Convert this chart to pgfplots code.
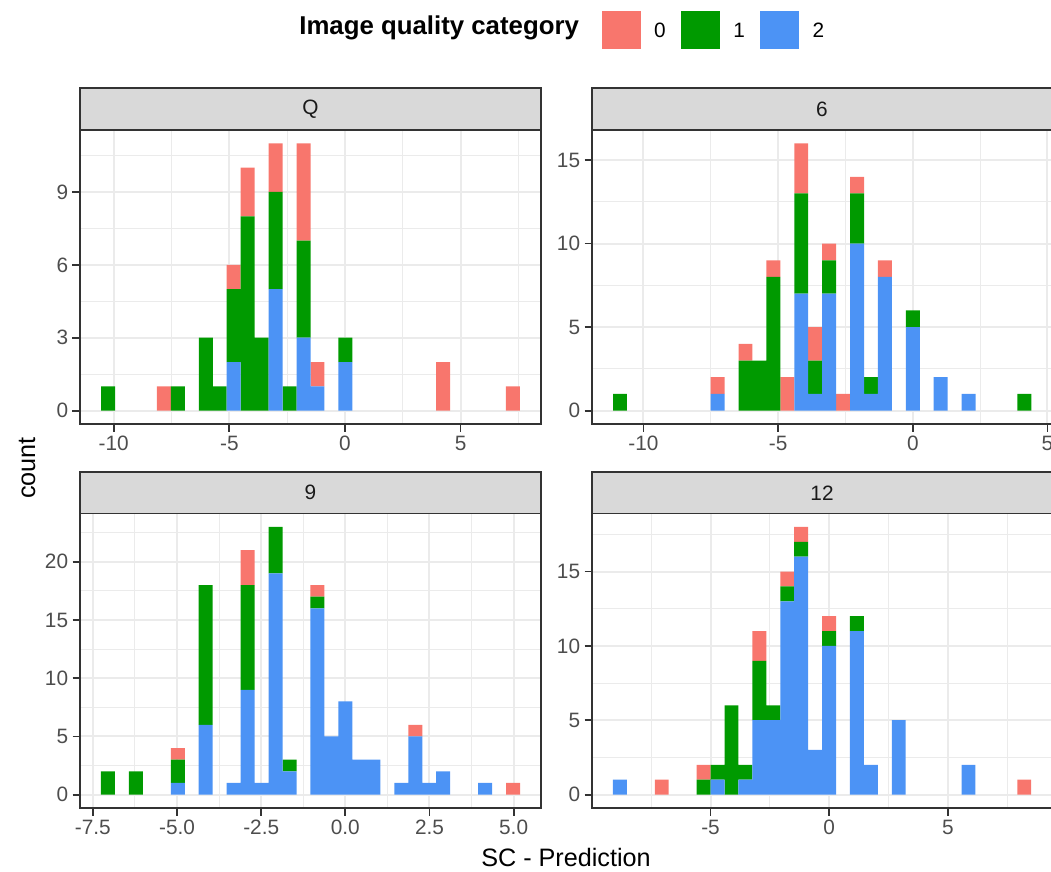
\documentclass[border=0pt]{standalone}
\usepackage{pgfplots}
\pgfplotsset{compat=1.18}
\usepackage{pgfplotstable}
\usepackage{fontspec}
\setmainfont{Liberation Sans}
\definecolor{redc}{HTML}{F8766D}
\definecolor{greenc}{HTML}{009A00}
\definecolor{bluec}{HTML}{4C93F5}
\definecolor{grey10}{HTML}{1A1A1A}
\definecolor{grey20}{HTML}{333333}
\definecolor{grey30}{HTML}{4D4D4D}
\definecolor{grey85}{HTML}{D9D9D9}
\definecolor{grey92}{HTML}{EBEBEB}

\pgfplotstableread{
x b g r
-10.248 0 1 0
-7.832 0 0 1
-7.228 0 1 0
-6.020 0 3 0
-5.416 0 1 0
-4.812 2 3 1
-4.208 0 8 2
-3.604 0 3 0
-3.000 5 4 2
-2.396 0 1 0
-1.792 3 4 4
-1.188 1 0 1
0.020 2 1 0
4.248 0 0 2
7.268 0 0 1
}\tQ

\pgfplotstableread{
x b g r
-10.871 0 1 0
-7.247 1 0 1
-6.212 0 3 1
-5.694 0 3 0
-5.176 0 8 1
-4.659 0 0 2
-4.141 7 6 3
-3.623 1 2 2
-3.106 7 2 1
-2.588 0 0 1
-2.070 10 3 1
-1.552 1 1 0
-1.035 8 0 1
0.001 5 1 0
1.036 2 0 0
2.071 1 0 0
4.142 0 1 0
}\tSix

\pgfplotstableread{
x b g r
-7.053 0 2 0
-6.223 0 2 0
-4.978 1 2 1
-4.148 6 12 0
-3.318 1 0 0
-2.903 9 9 3
-2.488 1 0 0
-2.073 19 4 0
-1.658 2 1 0
-0.828 16 1 1
-0.413 5 0 0
0.003 8 0 0
0.418 3 0 0
0.833 3 0 0
1.663 1 0 0
2.078 5 0 1
2.493 1 0 0
2.908 2 0 0
4.153 1 0 0
4.983 0 0 1
}\tNine

\pgfplotstableread{
x b g r
-8.813 1 0 0
-7.052 0 0 1
-5.291 0 1 1
-4.704 1 1 0
-4.117 0 6 0
-3.530 1 1 0
-2.943 5 4 2
-2.356 5 1 0
-1.769 13 1 1
-1.182 16 1 1
-0.595 3 0 0
-0.008 10 1 1
1.166 11 1 0
1.753 2 0 0
2.927 5 0 0
5.862 2 0 0
8.210 0 0 1
}\tTwelve

\pgfplotsset{
  facet/.style={
    scale only axis,
    anchor=south west,
    ybar stacked,
    axis line style={draw=grey20, line width=0.9pt},
    tick style={draw=grey20, line width=0.9pt},
    tick align=outside,
    tick pos=left,
    major tick length=3.75pt,
    minor tick length=0pt,
    grid=both,
    major grid style={draw=grey92, line width=1pt},
    minor grid style={draw=grey92, line width=0.5pt},
    tick label style={font=\fontsize{10.4}{12}\selectfont, text=grey30, inner sep=2pt},
    /pgf/number format/assume math mode=true,
    enlargelimits=false,
  },
}

\begin{document}
\begin{tikzpicture}
\useasboundingbox (0pt,0pt) rectangle (525.5pt,-436pt);

% Panel Q
\begin{axis}[facet, at={(40pt,-212pt)}, width=230.5pt, height=147pt,
  xmin=-11.46, xmax=8.48, ymin=-0.55, ymax=11.55,
  xtick={-10,-5,0,5}, xticklabels={-10,-5,0,5}, minor xtick={-7.5,-2.5,2.5,7.5},
  ytick={0,3,6,9}, yticklabels={0,3,6,9}, minor ytick={1.5,4.5,7.5,10.5},
  bar width=0.604,
  legend style={at={(axis description cs:1.1323,1.4058)}, anchor=north west,
    draw=none, fill=none, inner sep=0pt, outer sep=0pt, legend columns=-1,
    font=\fontsize{10.4}{12}\selectfont,
    /tikz/every odd column/.append style={column sep=4.6pt},
    /tikz/every even column/.append style={column sep=5.7pt}},
  legend image code/.code={\fill[#1] (0pt,-8.5pt) rectangle (19.5pt,10.5pt);},
]
\addplot[fill=bluec, draw=none, forget plot] table[x=x,y=b]{\tQ};
\addplot[fill=greenc, draw=none, forget plot] table[x=x,y=g]{\tQ};
\addplot[fill=redc, draw=none, forget plot] table[x=x,y=r]{\tQ};
\addlegendimage{fill=redc, draw=none}
\addlegendentry{0}
\addlegendimage{fill=greenc, draw=none}
\addlegendentry{1}
\addlegendimage{fill=bluec, draw=none}
\addlegendentry{2}
\end{axis}

% Panel 6
\begin{axis}[facet, at={(296pt,-212pt)}, width=230.15pt, height=147pt,
  xmin=-11.91, xmax=5.18, ymin=-0.8, ymax=16.8,
  xtick={-10,-5,0,5}, xticklabels={-10,-5,0,5}, minor xtick={-7.5,-2.5,2.5},
  ytick={0,5,10,15}, yticklabels={0,5,10,15}, minor ytick={2.5,7.5,12.5},
  bar width=0.5177,
]
\addplot[fill=bluec, draw=none] table[x=x,y=b]{\tSix};
\addplot[fill=greenc, draw=none] table[x=x,y=g]{\tSix};
\addplot[fill=redc, draw=none] table[x=x,y=r]{\tSix};
\end{axis}

% Panel 9
\begin{axis}[facet, at={(40pt,-404pt)}, width=230.5pt, height=147.25pt,
  xmin=-7.8825, xmax=5.8125, ymin=-1.15, ymax=24.15,
  xtick={-7.5,-5,-2.5,0,2.5,5}, xticklabels={-7.5,-5.0,-2.5,0.0,2.5,5.0},
  minor xtick={-6.25,-3.75,-1.25,1.25,3.75},
  ytick={0,5,10,15,20}, yticklabels={0,5,10,15,20}, minor ytick={2.5,7.5,12.5,17.5,22.5},
  bar width=0.415,
]
\addplot[fill=bluec, draw=none] table[x=x,y=b]{\tNine};
\addplot[fill=greenc, draw=none] table[x=x,y=g]{\tNine};
\addplot[fill=redc, draw=none] table[x=x,y=r]{\tNine};
\end{axis}

% Panel 12
\begin{axis}[facet, at={(296pt,-404pt)}, width=230pt, height=147.25pt,
  xmin=-9.99, xmax=9.38, ymin=-0.9, ymax=18.9,
  xtick={-5,0,5}, xticklabels={-5,0,5}, minor xtick={-7.5,-2.5,2.5,7.5},
  ytick={0,5,10,15}, yticklabels={0,5,10,15}, minor ytick={2.5,7.5,12.5,17.5},
  bar width=0.587,
]
\addplot[fill=bluec, draw=none] table[x=x,y=b]{\tTwelve};
\addplot[fill=greenc, draw=none] table[x=x,y=g]{\tTwelve};
\addplot[fill=redc, draw=none] table[x=x,y=r]{\tTwelve};
\end{axis}

% strips
\draw[fill=grey85, draw=grey20, line width=0.9pt] (40pt,-44pt) rectangle (270.5pt,-65pt);
\draw[fill=grey85, draw=grey20, line width=0.9pt] (296pt,-44pt) rectangle (526.2pt,-65pt);
\draw[fill=grey85, draw=grey20, line width=0.9pt] (40pt,-236pt) rectangle (270.5pt,-256.75pt);
\draw[fill=grey85, draw=grey20, line width=0.9pt] (296pt,-236pt) rectangle (526.2pt,-256.75pt);
\node[text=grey10, font=\fontsize{10.4}{12}\selectfont] at (155.25pt,-54.5pt) {Q};
\node[text=grey10, font=\fontsize{10.4}{12}\selectfont] at (411pt,-54.5pt) {6};
\node[text=grey10, font=\fontsize{10.4}{12}\selectfont] at (155.25pt,-246.4pt) {9};
\node[text=grey10, font=\fontsize{10.4}{12}\selectfont] at (411pt,-246.4pt) {12};

% titles
\node[anchor=base, font=\fontsize{12.6}{14}\selectfont] at (283pt,-433pt) {SC - Prediction};
\node[anchor=base, rotate=90, font=\fontsize{12.6}{14}\selectfont] at (17.5pt,-234pt) {count};
\node[anchor=base east, font=\bfseries\fontsize{12.9}{15}\selectfont] at (293pt,-17.3pt) {Image quality category};
\end{tikzpicture}
\end{document}
